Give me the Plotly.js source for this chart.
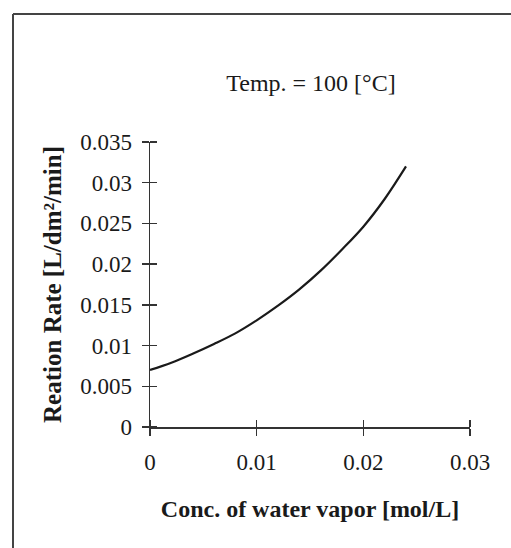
<!DOCTYPE html>
<html>
<head>
<meta charset="utf-8">
<script src="https://cdn.plot.ly/plotly-3.0.1.min.js"></script>
<style>html,body{margin:0;padding:0;background:#fff;}#chart{width:511px;height:548px;}</style>
</head>
<body>
<div id="chart"></div>
<script>
// Data
const concWaterVapor = [0, 0.002, 0.004, 0.006, 0.008, 0.010, 0.012, 0.014, 0.016, 0.018, 0.020, 0.022, 0.024];
const reactionRate   = [0.0070, 0.0079, 0.0090, 0.0102, 0.0115, 0.0131, 0.0149, 0.0169, 0.0192, 0.0218, 0.0246, 0.0280, 0.0320];
const xTickValues = [0, 0.01, 0.02, 0.03];
const xTickLabels = ["0", "0.01", "0.02", "0.03"];
const yTickValues = [0, 0.005, 0.01, 0.015, 0.02, 0.025, 0.03, 0.035];
const yTickLabels = ["0", "0.005", "0.01", "0.015", "0.02", "0.025", "0.03", "0.035"];
const chartTitle = "Temp. = 100 [°C]";
const xTitle = "Conc. of water vapor [mol/L]";
const yTitle = "Reation Rate [L/dm²/min]";

const serif = "'Liberation Serif', 'Times New Roman', serif";
const ink = "#1a1a1a";

const trace = {
  x: concWaterVapor,
  y: reactionRate,
  type: "scatter",
  mode: "lines",
  line: {color: ink, width: 2.2, shape: "spline", smoothing: 1},
  hoverinfo: "skip"
};

const L = 150, R = 41, T = 142, B = 121;
const W = 511 - L - R, H = 548 - T - B;
const px = v => (v - L) / W;
const py = v => (548 - B - v) / H;

const layout = {
  width: 511, height: 548,
  margin: {l: L, r: R, t: T, b: B, pad: 0},
  paper_bgcolor: "#ffffff",
  plot_bgcolor: "#ffffff",
  showlegend: false,
  font: {family: serif, color: ink, size: 23},
  title: {
    text: chartTitle,
    font: {family: serif, size: 24, color: ink},
    xref: "paper", x: px(311), xanchor: "center",
    yref: "container", y: 1 - 83 / 548, yanchor: "middle"
  },
  xaxis: {
    range: [0, 0.03],
    tickvals: xTickValues, ticktext: xTickLabels,
    showgrid: false, zeroline: false,
    showline: true, linecolor: "#333", linewidth: 1.5,
    ticks: "outside", ticklen: 7, tickwidth: 1.5, tickcolor: "#333",
    minor: {tickvals: xTickValues, ticks: "inside", ticklen: 7, tickwidth: 1.5, tickcolor: "#333", showgrid: false},
    ticklabelstandoff: 7,
    tickfont: {family: serif, size: 23, color: ink},
    title: {text: "<b>" + xTitle + "</b>", font: {family: serif, size: 24, color: ink}, standoff: 26},
    automargin: false,
    fixedrange: true
  },
  yaxis: {
    range: [0, 0.035],
    tickvals: yTickValues, ticktext: yTickLabels,
    showgrid: false, zeroline: false,
    showline: true, linecolor: "#333", linewidth: 1.5,
    ticks: "outside", ticklen: 7, tickwidth: 1.5, tickcolor: "#333",
    minor: {tickvals: yTickValues, ticks: "inside", ticklen: 7, tickwidth: 1.5, tickcolor: "#333", showgrid: false},
    ticklabelstandoff: 5,
    tickfont: {family: serif, size: 23, color: ink},
    title: {text: "<b>" + yTitle + "</b>", font: {family: serif, size: 25, color: ink}, standoff: 11},
    automargin: false,
    fixedrange: true
  },
  shapes: [
    {type: "line", xref: "paper", yref: "paper", x0: px(13), x1: px(13), y0: py(548), y1: py(14), line: {color: "#444", width: 2}},
    {type: "line", xref: "paper", yref: "paper", x0: px(13), x1: px(511), y0: py(14), y1: py(14), line: {color: "#444", width: 2}}
  ]
};

Plotly.newPlot("chart", [trace], layout, {displayModeBar: false, staticPlot: true});
</script>
</body>
</html>
